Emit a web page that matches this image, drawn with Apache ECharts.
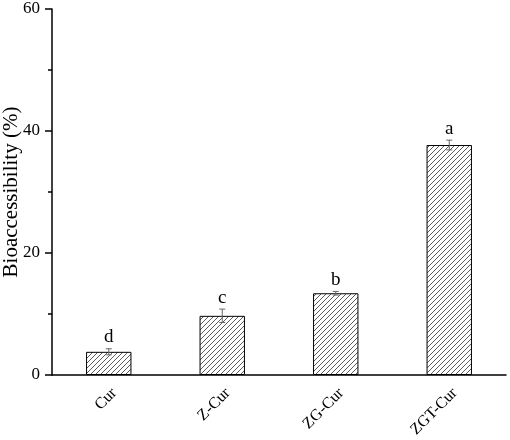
<!DOCTYPE html>
<html>
<head>
<meta charset="utf-8">
<script src="https://cdn.jsdelivr.net/npm/echarts@6/dist/echarts.min.js"></script>
<style>
  html, body { margin: 0; padding: 0; background: #fff; }
  #container { width: 510px; height: 440px; }
</style>
</head>
<body>
<div id="container"></div>
<script>
var categories = ['Cur', 'Z-Cur', 'ZG-Cur', 'ZGT-Cur'];
var means = [3.8, 9.7, 13.4, 37.7];
var errors = [0.5, 1.1, 0.3, 0.8];
var letters = ['d', 'c', 'b', 'a'];
var yTicks = [0, 20, 40, 60];

// diagonal hatch tile
function hatch() {
  var c = document.createElement('canvas');
  c.width = 5; c.height = 5;
  var ctx = c.getContext('2d');
  ctx.fillStyle = '#fff';
  ctx.fillRect(0, 0, 5, 5);
  ctx.strokeStyle = '#333';
  ctx.lineWidth = 0.8;
  ctx.beginPath();
  ctx.moveTo(-1, 6); ctx.lineTo(6, -1);
  ctx.moveTo(-1, 1); ctx.lineTo(1, -1);
  ctx.moveTo(4, 6); ctx.lineTo(6, 4);
  ctx.stroke();
  return c;
}

var errData = means.map(function (m, i) { return [i, m - errors[i], m + errors[i]]; });

var dom = document.getElementById('container');
var myChart = echarts.init(dom, null, { renderer: 'canvas' });
var serif = '"Liberation Serif", "Times New Roman", serif';

var option = {
  backgroundColor: '#fff',
  animation: false,
  grid: { left: 52, right: 4, top: 9, bottom: 65, containLabel: false, outerBoundsMode: 'none' },
  xAxis: {
    type: 'category',
    data: categories,
    axisLine: { lineStyle: { color: '#000', width: 1.5 } },
    axisTick: { alignWithLabel: true, length: 7, lineStyle: { color: '#000', width: 1.5 } },
    axisLabel: { rotate: 45, margin: 10, verticalAlign: 'top', fontFamily: serif, fontSize: 16, color: '#000' }
  },
  yAxis: {
    type: 'value',
    min: yTicks[0],
    max: yTicks[yTicks.length - 1],
    interval: 20,
    name: 'Bioaccessibility (%)',
    nameLocation: 'middle',
    nameGap: 30,
    nameMoveOverlap: false,
    nameTextStyle: { fontFamily: serif, fontSize: 21, color: '#000' },
    axisLine: { show: true, lineStyle: { color: '#000', width: 1.5 } },
    axisTick: { show: true, length: 7, lineStyle: { color: '#000', width: 1.5 } },
    minorTick: { show: true, splitNumber: 2, length: 4, lineStyle: { color: '#000', width: 1.5 } },
    splitLine: { show: false },
    axisLabel: { margin: 12, fontFamily: serif, fontSize: 17, color: '#000' }
  },
  series: [
    {
      type: 'bar',
      data: means,
      barWidth: '40%',
      itemStyle: {
        color: { image: hatch(), repeat: 'repeat' },
        borderColor: '#000',
        borderWidth: 1
      }
    },
    {
      type: 'custom',
      data: errData,
      z: 5,
      renderItem: function (params, api) {
        var x = api.value(0);
        var lo = api.coord([x, api.value(1)]);
        var hi = api.coord([x, api.value(2)]);
        var hw = 3;
        var st = { stroke: '#666', lineWidth: 1 };
        return {
          type: 'group',
          children: [
            { type: 'line', shape: { x1: hi[0], y1: hi[1], x2: lo[0], y2: lo[1] }, style: st },
            { type: 'line', shape: { x1: hi[0] - hw, y1: hi[1], x2: hi[0] + hw, y2: hi[1] }, style: st },
            { type: 'line', shape: { x1: lo[0] - hw, y1: lo[1], x2: lo[0] + hw, y2: lo[1] }, style: st },
            {
              type: 'text',
              style: {
                text: letters[params.dataIndex],
                x: hi[0], y: hi[1] - 2,
                align: 'center', verticalAlign: 'bottom',
                font: '19px ' + serif, fill: '#000'
              }
            }
          ]
        };
      }
    }
  ]
};

myChart.setOption(option);
window.addEventListener('resize', myChart.resize);
</script>
</body>
</html>
